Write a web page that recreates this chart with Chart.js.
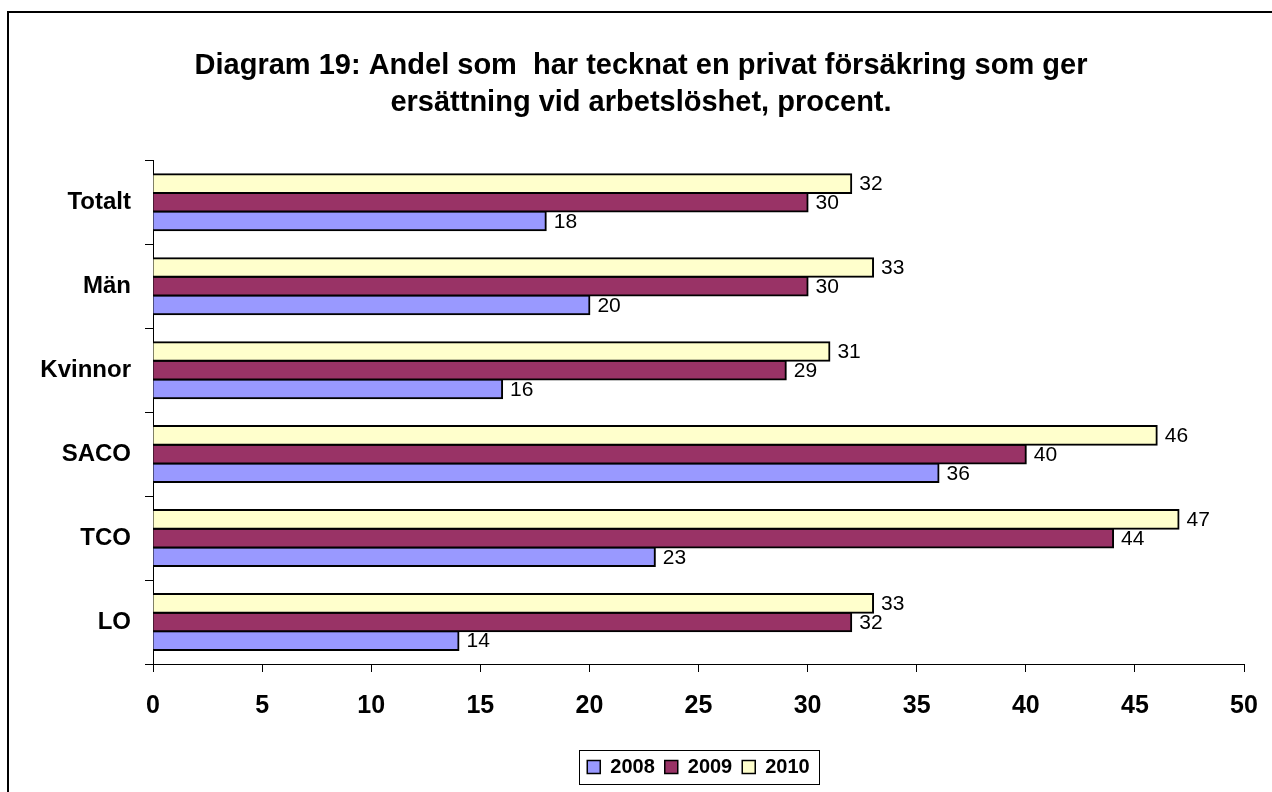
<!DOCTYPE html>
<html>
<head>
<meta charset="utf-8">
<script src="https://cdn.jsdelivr.net/npm/chart.js@4"></script>
<style>
  html, body { margin: 0; padding: 0; background: #fff; }
  #wrap { width: 1272px; height: 792px; }
</style>
</head>
<body>
<div id="wrap"><canvas id="c" width="1272" height="792"></canvas></div>
<script>
/* data */
var categories = ['Totalt', 'Män', 'Kvinnor', 'SACO', 'TCO', 'LO'];
var years      = ['2008', '2009', '2010'];
var values2008 = [18, 20, 16, 36, 23, 14];
var values2009 = [30, 30, 29, 40, 44, 32];
var values2010 = [32, 33, 31, 46, 47, 33];
var xTicks     = [0, 5, 10, 15, 20, 25, 30, 35, 40, 45, 50];

var titleLines = [
  'Diagram 19: Andel som  har tecknat en privat försäkring som ger',
  'ersättning vid arbetslöshet, procent.'
];

var FONT = "'Liberation Sans', Arial, sans-serif";

/* etiketter till höger om staplarna */
var barLabels = {
  id: 'barLabels',
  afterDatasetsDraw: function(chart) {
    var ctx = chart.ctx;
    ctx.save();
    ctx.fillStyle = '#000';
    ctx.font = '21px ' + FONT;
    ctx.textAlign = 'left';
    ctx.textBaseline = 'middle';
    chart.data.datasets.forEach(function(ds, i) {
      var meta = chart.getDatasetMeta(i);
      meta.data.forEach(function(bar, j) {
        ctx.fillText(ds.data[j], bar.x + 8, bar.y + 1);
      });
    });
    ctx.restore();
  }
};

/* ram runt diagrammet och runt förklaringen */
var frames = {
  id: 'frames',
  afterDraw: function(chart) {
    var ctx = chart.ctx;
    ctx.save();
    ctx.strokeStyle = '#000';
    ctx.lineWidth = 2;
    ctx.beginPath();
    ctx.moveTo(8, 792);
    ctx.lineTo(8, 12);
    ctx.lineTo(1272, 12);
    ctx.stroke();

    var hb = chart.legend.legendHitBoxes;
    if (hb && hb.length) {
      var left = hb[0].left, right = 0, mid = hb[0].top + hb[0].height / 2;
      hb.forEach(function(b) {
        left = Math.min(left, b.left);
        right = Math.max(right, b.left + b.width);
      });
      ctx.lineWidth = 1;
      ctx.strokeRect(Math.round(left - 8) + 0.5, Math.round(mid - 17) + 0.5,
                     Math.round(right - left + 18), 34);
    }
    ctx.restore();
  }
};

var ctx = document.getElementById('c').getContext('2d');
new Chart(ctx, {
  type: 'bar',
  data: {
    labels: categories,
    datasets: [
      { label: years[2], data: values2010, backgroundColor: '#FFFFCC' },
      { label: years[1], data: values2009, backgroundColor: '#993366' },
      { label: years[0], data: values2008, backgroundColor: '#9999FF' }
    ]
  },
  options: {
    indexAxis: 'y',
    responsive: false,
    animation: false,
    layout: { padding: { left: 10, right: 0, top: 0, bottom: 5 } },
    datasets: {
      bar: {
        categoryPercentage: 0.667,
        barPercentage: 1.0,
        borderColor: '#000',
        borderWidth: 2,
        inflateAmount: 1
      }
    },
    scales: {
      x: {
        min: 0, max: 50,
        afterBuildTicks: function(scale) {
          scale.ticks = xTicks.map(function(v) { return { value: v }; });
        },
        afterFit: function(scale) {
          scale.height = 83;
          scale.paddingRight = 28;
        },
        grid: { drawOnChartArea: false, drawTicks: true, tickLength: 8, color: '#000' },
        border: { display: true, color: '#000', width: 1 },
        ticks: {
          color: '#000',
          padding: 19,
          font: { family: FONT, size: 25, weight: 'bold' }
        }
      },
      y: {
        afterFit: function(scale) { scale.width = 143; },
        grid: { drawOnChartArea: false, drawTicks: true, tickLength: 8, offset: true, color: '#000' },
        border: { display: true, color: '#000', width: 1 },
        ticks: {
          color: '#000',
          padding: 14,
          font: { family: FONT, size: 24, weight: 'bold' }
        }
      }
    },
    plugins: {
      title: {
        display: true,
        text: titleLines,
        color: '#000',
        font: { family: FONT, size: 29, weight: 'bold', lineHeight: 1.28 },
        padding: { top: 47, bottom: 39 }
      },
      legend: {
        position: 'bottom',
        fullSize: false,
        reverse: true,
        labels: {
          color: '#000',
          boxWidth: 13,
          boxHeight: 13,
          padding: 10,
          font: { family: FONT, size: 20, weight: 'bold' },
          generateLabels: function(chart) {
            var items = Chart.defaults.plugins.legend.labels.generateLabels(chart);
            items.forEach(function(it) { it.lineWidth = 1.5; it.strokeStyle = '#000'; });
            return items;
          }
        }
      },
      tooltip: { enabled: false }
    }
  },
  plugins: [barLabels, frames]
});
</script>
</body>
</html>
